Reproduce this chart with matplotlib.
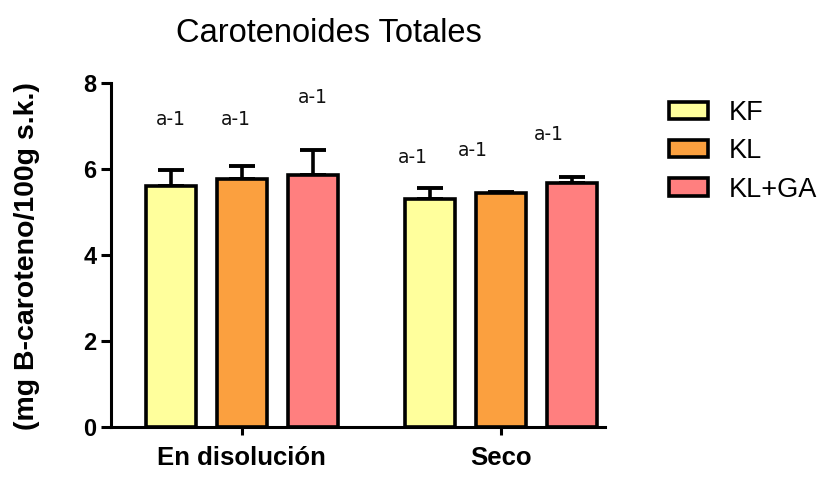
import matplotlib
matplotlib.use("Agg")
import matplotlib.pyplot as plt
import numpy as np

# Data
groups = ["En disolución", "Seco"]
series = ["KF", "KL", "KL+GA"]
means = {
    "KF":    [5.60, 5.30],
    "KL":    [5.77, 5.44],
    "KL+GA": [5.86, 5.67],
}
errors = {
    "KF":    [0.38, 0.26],
    "KL":    [0.30, 0.03],
    "KL+GA": [0.58, 0.14],
}
colors = {"KF": "#FFFF9C", "KL": "#FBA03F", "KL+GA": "#FF7F7F"}

# significance letters, their heights and small horizontal shifts
sig_text = {"KF": ["a-1", "a-1"], "KL": ["a-1", "a-1"], "KL+GA": ["a-1", "a-1"]}
sig_y = {"KF": [7.14, 6.26], "KL": [7.14, 6.42], "KL+GA": [7.67, 6.79]}
sig_dx = {"KF": [0.0, -0.24], "KL": [-0.08, -0.39], "KL+GA": [0.0, -0.32]}

yticks = [0, 2, 4, 6, 8]

plt.rcParams["font.family"] = ["Liberation Sans", "DejaVu Sans"]

fig = plt.figure(figsize=(8.19, 4.95), dpi=100)
ax = fig.add_axes([0.1355, 0.1374, 0.603, 0.695])

group_centers = np.array([0.0, 3.65])
width = 0.7
offsets = [-1.0, 0.0, 1.0]

handles = []
for s, off in zip(series, offsets):
    x = group_centers + off
    h = ax.bar(x, means[s], width=width, color=colors[s], edgecolor="black",
               linewidth=2.6, label=s, zorder=2)
    handles.append(h)
    ax.errorbar(x, means[s], yerr=[np.zeros(len(x)), errors[s]], fmt="none",
                ecolor="black", elinewidth=2.6, capsize=9.5, capthick=2.8, zorder=1)
    for xi, t, yy, dx in zip(x, sig_text[s], sig_y[s], sig_dx[s]):
        ax.text(xi + dx, yy, t, ha="center", va="center", fontsize=13.5,
                family="DejaVu Sans", color="#111111")

ax.set_xlim(-1.845, group_centers[-1] + 1.465)
ax.set_ylim(0, 8)
ax.set_yticks(yticks)
ax.set_yticklabels([str(v) for v in yticks], fontsize=17, fontweight="bold")
ax.set_xticks(group_centers)
ax.set_xticklabels(groups, fontsize=18.5, fontweight="bold")

for side in ["top", "right"]:
    ax.spines[side].set_visible(False)
for side in ["left", "bottom"]:
    ax.spines[side].set_linewidth(2.2)
ax.tick_params(axis="y", direction="out", length=7, width=2.2, pad=3.5)
ax.tick_params(axis="x", direction="out", length=6, width=2.2, pad=8)

ax.set_ylabel("(mg B-caroteno/100g s.k.)", fontsize=20.5, fontweight="bold",
              va="center")
ax.yaxis.set_label_coords(-0.17, 0.497)

fig.text(329 / 819, 1 - 33 / 495, "Carotenoides Totales", ha="center", va="center",
         fontsize=23.5)

leg = fig.legend(handles=handles, labels=series, loc="upper left",
                 bbox_to_anchor=(0.8, 0.825), frameon=False, fontsize=19.5,
                 handlelength=1.45, handleheight=0.6, labelspacing=0.45,
                 handletextpad=0.75, borderpad=0)

fig.savefig("out.png", dpi=100)
